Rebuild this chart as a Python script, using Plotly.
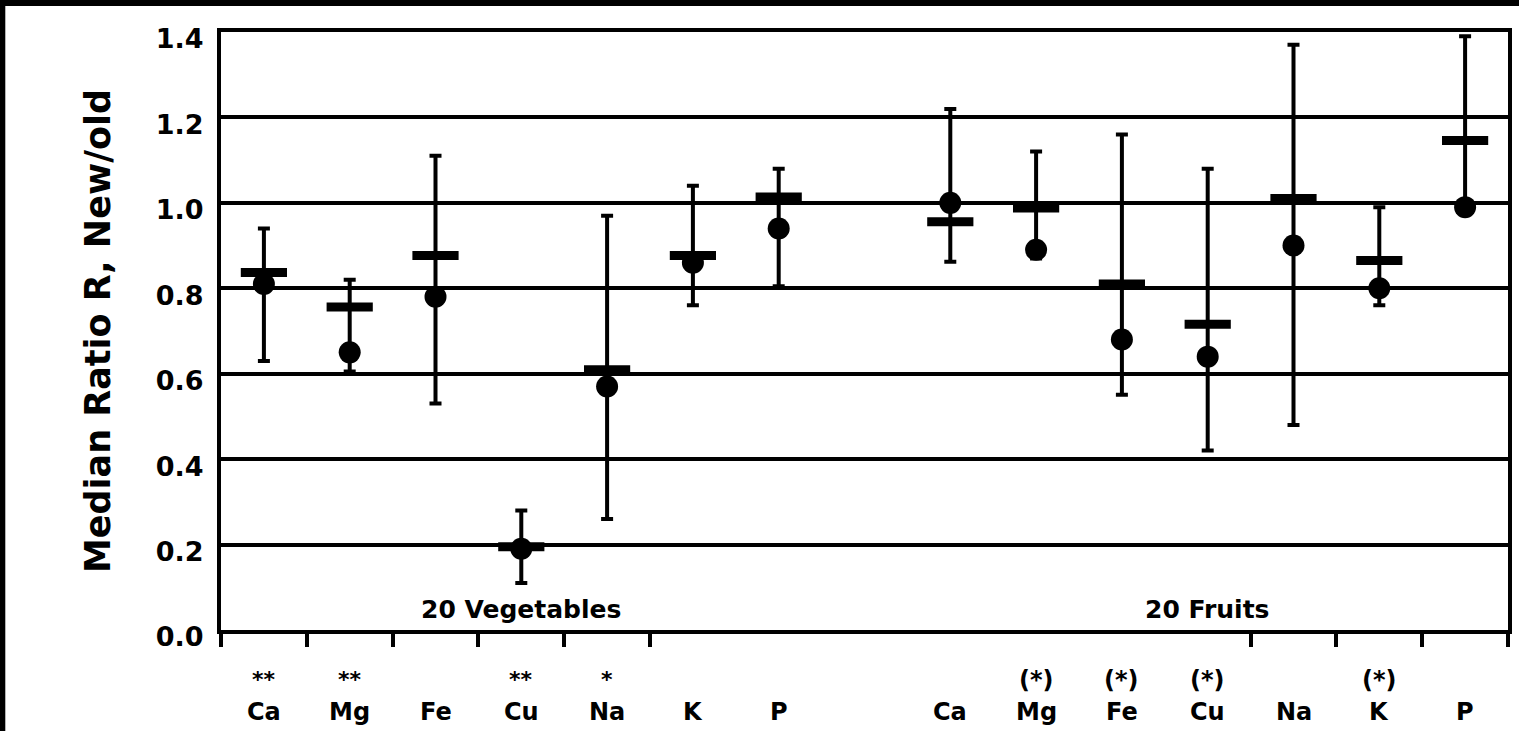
import plotly.graph_objects as go

# Minerals, in the order they are plotted for each food group
vegetable_minerals = ["Ca", "Mg", "Fe", "Cu", "Na", "K", "P"]
fruit_minerals = ["Ca", "Mg", "Fe", "Cu", "Na", "K", "P"]

# Significance flags printed above each mineral name
vegetable_flags = ["**", "**", "", "**", "*", "", ""]
fruit_flags = ["", "(*)", "(*)", "(*)", "", "(*)", ""]

# Ratio new/old: bar marker, dot marker (median) and the whisker range
vegetable_bar = [0.837, 0.756, 0.877, 0.195, 0.609, 0.877, 1.014]
vegetable_median = [0.81, 0.65, 0.78, 0.19, 0.57, 0.86, 0.94]
vegetable_high = [0.94, 0.82, 1.11, 0.28, 0.97, 1.04, 1.08]
vegetable_low = [0.63, 0.605, 0.53, 0.11, 0.26, 0.76, 0.805]

fruit_bar = [0.956, 0.988, 0.81, 0.716, 1.01, 0.865, 1.146]
fruit_median = [1.00, 0.89, 0.68, 0.64, 0.90, 0.80, 0.99]
fruit_high = [1.22, 1.12, 1.16, 1.08, 1.37, 0.99, 1.39]
fruit_low = [0.862, 0.87, 0.551, 0.42, 0.48, 0.76, 0.98]

group_labels = ["20 Vegetables", "20 Fruits"]
y_ticks = [0.0, 0.2, 0.4, 0.6, 0.8, 1.0, 1.2, 1.4]

# Slot positions: vegetables 0..6, one empty slot, fruits 8..14
veg_x = list(range(len(vegetable_minerals)))
fruit_x = [len(vegetable_minerals) + 1 + i for i in range(len(fruit_minerals))]
xs = veg_x + fruit_x
minerals = vegetable_minerals + fruit_minerals
flags = vegetable_flags + fruit_flags
bar = vegetable_bar + fruit_bar
median = vegetable_median + fruit_median
high = vegetable_high + fruit_high
low = vegetable_low + fruit_low

BOLD = dict(family="DejaVu Sans", color="black", weight="bold")

fig = go.Figure()

fig.add_trace(go.Scatter(
    x=xs, y=bar, mode="markers",
    marker=dict(symbol="line-ew", size=33, color="black",
                line=dict(color="black", width=9)),
    error_y=dict(type="data", symmetric=False,
                 array=[h - b for h, b in zip(high, bar)],
                 arrayminus=[b - l for b, l in zip(bar, low)],
                 color="black", thickness=4, width=6),
    showlegend=False, hoverinfo="skip",
))

fig.add_trace(go.Scatter(
    x=xs, y=median, mode="markers",
    marker=dict(symbol="circle", size=22, color="black", line=dict(width=0)),
    showlegend=False,
))

# Mineral names and significance flags under the axis
annotations = []
for x, name, flag in zip(xs, minerals, flags):
    annotations.append(dict(x=x, y=-0.137, xref="x", yref="paper", text=name,
                            showarrow=False, yanchor="middle",
                            font=dict(size=24, **BOLD)))
    if flag:
        size = 24 if flag.startswith("(") else 22
        annotations.append(dict(x=x, y=-0.083, xref="x", yref="paper", text=flag,
                                showarrow=False, yanchor="middle",
                                font=dict(size=size, **BOLD)))

# Group captions inside the plot
veg_mid = (veg_x[0] + veg_x[-1]) / 2
fruit_mid = (fruit_x[0] + fruit_x[-1]) / 2
for x, label in zip([veg_mid, fruit_mid], group_labels):
    annotations.append(dict(x=x, y=0.049, xref="x", yref="y", text=label,
                            showarrow=False, yanchor="middle",
                            font=dict(size=25, **BOLD)))

n_slots = len(xs) + 1
x_lo, x_hi = -0.5, n_slots - 0.5
tick_pos = [v - 0.5 for v in veg_x[:6]] + [v - 0.5 for v in fruit_x[4:]] + [x_hi]

fig.update_layout(
    width=1519, height=731, autosize=False,
    margin=dict(l=221, r=7, t=32, b=101),
    paper_bgcolor="white", plot_bgcolor="white",
    annotations=annotations,
    shapes=[
        dict(type="rect", xref="paper", yref="paper",
             x0=-0.18, x1=1.01, y0=1.0435, y1=1.06,
             fillcolor="black", line=dict(width=0), layer="above"),
        dict(type="rect", xref="paper", yref="paper",
             x0=-0.18, x1=-0.1676, y0=-0.18, y1=1.06,
             fillcolor="black", line=dict(width=0), layer="above"),
    ],
)

fig.update_xaxes(
    range=[x_lo, x_hi], showgrid=False, zeroline=False,
    tickmode="array", tickvals=tick_pos, showticklabels=False,
    ticks="outside", ticklen=13, tickwidth=4, tickcolor="black",
    showline=True, linecolor="black", linewidth=4, mirror=True,
)

fig.update_yaxes(
    range=[0, 1.4], tickmode="array", tickvals=y_ticks,
    tickformat=".1f", ticks="", ticklabelstandoff=8, ticklabelshift=7,
    tickfont=dict(size=27, **BOLD),
    showgrid=True, gridcolor="black", gridwidth=3.5, zeroline=False,
    showline=True, linecolor="black", linewidth=4, mirror=True,
    title=dict(text="Median Ratio R, New/old", standoff=36,
               font=dict(size=35, **BOLD)),
)

fig.write_html("out.html")
